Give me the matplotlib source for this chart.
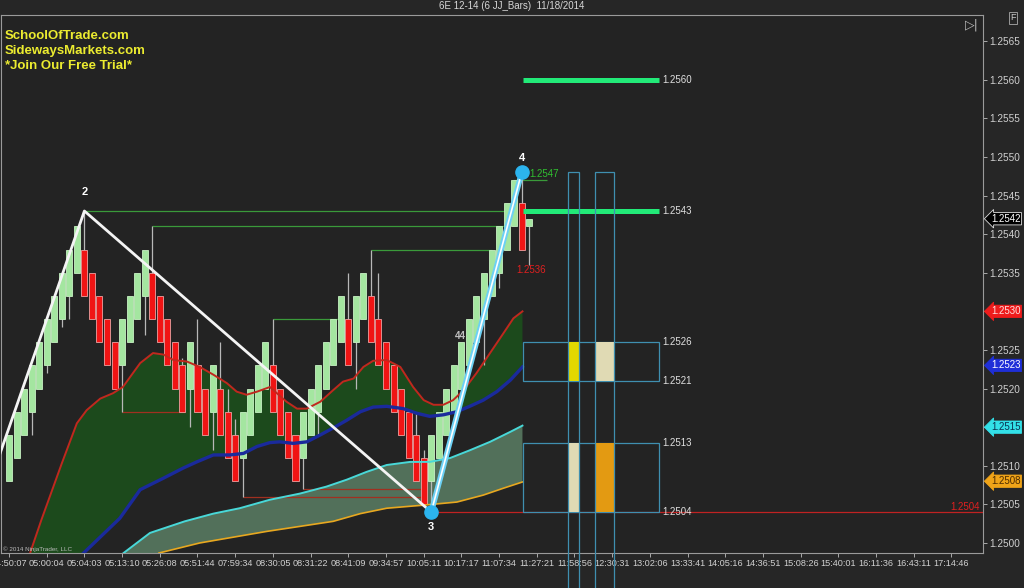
import numpy as np
import matplotlib
matplotlib.use('Agg')
from matplotlib import pyplot as plt
from matplotlib.patches import Rectangle
import matplotlib.transforms as mtransforms

plt.rcParams['font.family'] = ['Liberation Sans', 'DejaVu Sans']

# бары (открытие / закрытие), номер бара = позиция на оси
bar_open = [1.2508, 1.2511, 1.2514, 1.2517, 1.2520, 1.2523, 1.2526, 1.2529, 1.2532, 1.2535,
            1.2538, 1.2535, 1.2532, 1.2529, 1.2526, 1.2523, 1.2526, 1.2529, 1.2532, 1.2535,
            1.2532, 1.2529, 1.2526, 1.2523, 1.2520, 1.2523, 1.2520, 1.2517, 1.2520, 1.2517,
            1.2514, 1.2511, 1.2514, 1.2517, 1.2520, 1.2523, 1.2520, 1.2517, 1.2514, 1.2511,
            1.2514, 1.2517, 1.2520, 1.2523, 1.2526, 1.2529, 1.2526, 1.2529, 1.2532, 1.2529,
            1.2526, 1.2523, 1.2520, 1.2517, 1.2514, 1.2511, 1.2508, 1.2511, 1.2514, 1.2517,
            1.2520, 1.2523, 1.2526, 1.2529, 1.2532, 1.2535, 1.2538, 1.2541, 1.2544, 1.2541]
bar_close = [1.2514, 1.2517, 1.2520, 1.2523, 1.2526, 1.2529, 1.2532, 1.2535, 1.2538, 1.2541,
             1.2532, 1.2529, 1.2526, 1.2523, 1.2520, 1.2529, 1.2532, 1.2535, 1.2538, 1.2529,
             1.2526, 1.2523, 1.2520, 1.2517, 1.2526, 1.2517, 1.2514, 1.2523, 1.2514, 1.2511,
             1.2508, 1.2517, 1.2520, 1.2523, 1.2526, 1.2517, 1.2514, 1.2511, 1.2508, 1.2517,
             1.2520, 1.2523, 1.2526, 1.2529, 1.2532, 1.2523, 1.2532, 1.2535, 1.2526, 1.2523,
             1.2520, 1.2517, 1.2514, 1.2511, 1.2508, 1.2505, 1.2514, 1.2517, 1.2520, 1.2523,
             1.2526, 1.2529, 1.2532, 1.2535, 1.2538, 1.2541, 1.2544, 1.2547, 1.2538, 1.2542]

# тени, которые видны за пределами тела
wick_hi = {11: 1.2543, 20: 1.2541, 24: 1.2524, 26: 1.2529, 29: 1.2526, 30: 1.2520, 31: 1.2516,
           36: 1.2529, 46: 1.2535, 49: 1.2538, 50: 1.2535, 55: 1.2517, 56: 1.2512, 69: 1.2548}
wick_lo = {4: 1.2514, 6: 1.2522, 8: 1.2528, 9: 1.2529, 16: 1.2517, 19: 1.2527, 25: 1.2515,
           28: 1.2512, 32: 1.2506, 40: 1.2507, 42: 1.2514, 47: 1.2520, 57: 1.2504, 64: 1.2523,
           66: 1.2533, 70: 1.2536}

# подписи времени (каждые 5 баров)
time_labels = ['04:50:07', '05:00:04', '05:04:03', '05:13:10', '05:26:08', '05:51:44', '07:59:34',
               '08:30:05', '08:31:22', '08:41:09', '09:34:57', '10:05:11', '10:17:17', '11:07:34',
               '11:27:21', '11:58:56', '12:30:31', '13:02:06', '13:33:41', '14:05:16', '14:36:51',
               '15:08:26', '15:40:01', '16:11:36', '16:43:11', '17:14:46']

# индикаторы
red_x = [3.8, 5.3, 8.0, 10.0, 11.3, 13.1, 14.8, 16.1, 18.4, 20.1, 21.5, 22.8, 24.6, 26.3, 28.1,
         29.9, 31.2, 32.5, 33.9, 35.6, 37.8, 39.2, 40.5, 42.3, 44.0, 45.3, 46.7, 48.0, 49.3,
         51.1, 52.9, 54.6, 56.0, 57.3, 58.6, 59.9, 61.3, 63.0, 64.8, 66.6, 67.9, 69.1]
red_y = [1.24987, 1.25030, 1.25103, 1.25155, 1.25172, 1.25187, 1.25194, 1.25202, 1.25233,
         1.25246, 1.25244, 1.25237, 1.25235, 1.25228, 1.25218, 1.25207, 1.25196, 1.25192,
         1.25196, 1.25202, 1.25183, 1.25174, 1.25174, 1.25183, 1.25198, 1.25209, 1.25213,
         1.25228, 1.25236, 1.25237, 1.25228, 1.25202, 1.25185, 1.25179, 1.25179, 1.25185,
         1.25198, 1.25220, 1.25246, 1.25272, 1.25291, 1.25300]
blue_x = [10.9, 15.7, 18.4, 21.5, 24.1, 25.9, 28.1, 30.3, 32.1, 33.9, 35.6, 36.9, 38.7, 40.5,
          42.3, 44.0, 45.8, 47.6, 49.3, 51.1, 53.3, 55.1, 56.8, 58.6, 60.4, 62.1, 63.9, 65.7,
          67.5, 69.1]
blue_y = [1.24987, 1.25032, 1.25069, 1.25084, 1.25097, 1.25105, 1.25114, 1.25114, 1.25116,
          1.25125, 1.25130, 1.25131, 1.25129, 1.25131, 1.25140, 1.25149, 1.25159, 1.25170,
          1.25176, 1.25177, 1.25174, 1.25168, 1.25164, 1.25166, 1.25170, 1.25177, 1.25185,
          1.25196, 1.25211, 1.25228]
cyan_x = [16.2, 19.7, 24.3, 28.1, 31.6, 35.6, 39.6, 43.1, 45.8, 48.4, 51.1, 54.2, 56.8, 59.5,
          62.1, 64.8, 67.5, 69.1]
cyan_y = [1.24987, 1.25013, 1.25028, 1.25038, 1.25045, 1.25056, 1.25064, 1.25073, 1.25082,
          1.25092, 1.25101, 1.25105, 1.25105, 1.25110, 1.25120, 1.25131, 1.25144, 1.25152]
orange_x = [20.9, 26.3, 35.2, 44.0, 47.6, 51.1, 56.0, 60.4, 63.9, 66.6, 69.1]
orange_y = [1.24987, 1.25000, 1.25015, 1.25028, 1.25038, 1.25045, 1.25049, 1.25053, 1.25062,
            1.25071, 1.25079]

# уровни от экстремумов: (цена, от бара, до бара)
green_levels = [(1.2543, 11, 67.5), (1.2541, 20, 67.5), (1.2538, 49, 65), (1.2529, 36, 45),
                (1.2547, 67.8, 72.3)]
red_levels = [(1.2517, 16, 24.3), (1.2506, 32, 56.2), (1.2507, 40, 56.2)]

# зигзаг 1-2-3-4
zz_x = [-2, 11, 57, 69]
zz_y = [1.25065, 1.2543, 1.2504, 1.2548]

# зоны справа
target_levels = [1.2560, 1.2543]
box_levels = [(1.2521, 1.2526), (1.2504, 1.2513)]
col_x = [(75.2, 76.6), (78.7, 81.2)]
col_fill = [['#e2d800', '#e0dab4'], ['#e0dab4', '#e39a12']]
axis_tags = [(1.2542, '#000000', '#ffffff', '#ffffff'), (1.2530, '#ee1c1c', '#ffe0e0', '#ee1c1c'),
             (1.2523, '#1f2fd8', '#ffffff', '#1f2fd8'), (1.2515, '#33e0e8', '#0a3050', '#33e0e8'),
             (1.2508, '#f0a418', '#4a2a00', '#f0a418')]

bg = '#232323'
fig = plt.figure(figsize=(10.24, 5.88), dpi=100, facecolor='#262626')
ax = fig.add_axes([1 / 1024, 35 / 588, 982 / 1024, 538 / 588])
ax.set_facecolor(bg)
ax.set_xlim(-0.06, 130.18)
ax.set_ylim(1.24987, 1.256839)

# заливки
px = red_x + blue_x[::-1]
py = red_y + blue_y[::-1]
ax.fill(px, py, color='#1c4a1c', lw=0, zorder=1)
px = cyan_x + orange_x[::-1]
py = cyan_y + orange_y[::-1]
ax.fill(px, py, color='#52705a', lw=0, zorder=1)

# уровни
for p, a, b in green_levels:
    ax.hlines(p, a, b, color='#3a9a3a', lw=0.9, zorder=2)
for p, a, b in red_levels:
    ax.hlines(p, a, b, color='#a03020', lw=0.9, zorder=2)
ax.hlines(1.2504, 57, 130.18, color='#c02222', lw=0.9, zorder=2)

# бары
n = len(bar_open)
idx = np.arange(1, n + 1)
o = np.array(bar_open)
c = np.array(bar_close)
lo = np.minimum(o, c)
hi = np.maximum(o, c)
for i in idx:
    if i in wick_hi:
        ax.vlines(i, hi[i - 1], wick_hi[i], color='#b8b8b8', lw=0.9, zorder=3)
    if i in wick_lo:
        ax.vlines(i, wick_lo[i], lo[i - 1], color='#b8b8b8', lw=0.9, zorder=3)
up = c >= o
ax.bar(idx[up], (hi - lo)[up], bottom=lo[up], width=0.8, color='#a4e6a0', edgecolor='#c8f2c4',
       lw=0.6, zorder=4)
ax.bar(idx[~up], (hi - lo)[~up], bottom=lo[~up], width=0.8, color='#f01414', edgecolor='#f0a0a0',
       lw=0.6, zorder=4)

# линии индикаторов
ax.plot(red_x, red_y, color='#c0281e', lw=1.4, zorder=5)
ax.plot(blue_x, blue_y, color='#1a2a9c', lw=2.4, zorder=5)
ax.plot(cyan_x, cyan_y, color='#48d8d8', lw=1.4, zorder=5)
ax.plot(orange_x, orange_y, color='#e8a820', lw=1.2, zorder=5)

# зигзаг
ax.plot(zz_x[:3], zz_y[:3], color='#f4f4f4', lw=2, zorder=6)
ax.plot(zz_x[2:], zz_y[2:], color='#6cd0f4', lw=4, zorder=6, solid_capstyle='round')
ax.plot(zz_x[2:], zz_y[2:], color='#ffffff', lw=1.2, zorder=6)
ax.text(70.0, 1.25478, '1.2547', color='#30c030', fontsize=7, ha='left', va='center', zorder=6)
ax.plot(zz_x[2:], zz_y[2:], 'o', ms=9.5, color='#2cb4ee', zorder=7)
ax.annotate('2', (zz_x[1], zz_y[1]), xytext=(0, 10), textcoords='offset points', ha='center',
            va='bottom', color='white', fontsize=8, fontweight='bold', zorder=7)
ax.annotate('3', (zz_x[2], zz_y[2]), xytext=(0, -7), textcoords='offset points', ha='center',
            va='top', color='white', fontsize=8, fontweight='bold', zorder=7)
ax.annotate('4', (zz_x[3], zz_y[3]), xytext=(0, 7), textcoords='offset points', ha='center',
            va='bottom', color='white', fontsize=8, fontweight='bold', zorder=7)
ax.text(60.1, 1.25268, '44', color='#c0c0c0', fontsize=7, fontweight='bold', ha='left',
        va='center', zorder=4.5)
ax.text(70.2, 1.25354, '1.2536', color='#e02020', fontsize=7, ha='center', va='center', zorder=6)
ax.text(129.8, 1.25046, '1.2504', color='#e02020', fontsize=7, ha='right', va='center', zorder=6)

# зоны справа
bx0, bx1 = 69.17, 87.2
for p in target_levels:
    ax.hlines(p, bx0, bx1, color='#22ea78', lw=3.6, zorder=6)
    ax.text(bx1 + 0.4, p, f'{p:.4f}', color='#e0e0e0', fontsize=7, ha='left', va='center')
for k, (b0, b1) in enumerate(box_levels):
    ax.add_patch(Rectangle((bx0, b0), bx1 - bx0, b1 - b0, fill=False, ec='#3f8fb0', lw=0.9,
                           zorder=5))
    for j, (c0, c1) in enumerate(col_x):
        ax.add_patch(Rectangle((c0, b0), c1 - c0, b1 - b0, color=col_fill[k][j], lw=0, zorder=5))
    for p in (b1, b0):
        ax.text(bx1 + 0.4, p, f'{p:.4f}', color='#e0e0e0', fontsize=7, ha='left', va='center')
for c0, c1 in col_x:
    ax.add_patch(Rectangle((c0, 1.2490), c1 - c0, 1.2548 - 1.2490, fill=False, ec='#3f8fb0',
                           lw=0.9, zorder=6, clip_on=False))

# оси
for s in ax.spines.values():
    s.set_color('#9a9a9a')
    s.set_linewidth(0.8)
ax.yaxis.tick_right()
yt = np.arange(1.2500, 1.25651, 0.0005)
ax.set_yticks(yt)
ax.set_yticklabels([f'{v:.4f}' for v in yt])
xt = np.arange(1, 1 + 5 * len(time_labels), 5)
ax.set_xticks(xt)
ax.set_xticklabels(time_labels)
ax.tick_params(axis='both', colors='#aaaaaa', labelcolor='#d0d0d0', length=3,
               width=0.7, pad=1.5)
ax.tick_params(axis='x', labelsize=6.6)
ax.tick_params(axis='y', labelsize=7.2)

trans = mtransforms.blended_transform_factory(ax.transAxes, ax.transData)
for p, fc, tc, ec in axis_tags:
    ax.text(1.008, p, f'{p:.4f}', transform=trans, ha='left', va='center', fontsize=7, color=tc,
            bbox=dict(boxstyle='larrow,pad=0.12', fc=fc, ec=ec if fc != '#000000' else '#dddddd',
                      lw=0.6), clip_on=False, zorder=10)

# надписи
fig.text(0.5, 1 - 6 / 588, '6E 12-14 (6 JJ_Bars)  11/18/2014', fontsize=7, color='#d8d8d8',
         ha='center', va='center')
for k, t in enumerate(['SchoolOfTrade.com', 'SidewaysMarkets.com', '*Join Our Free Trial*']):
    fig.text(5 / 1024, 1 - (36 + 15 * k) / 588, t, fontsize=9.5, fontweight='bold',
             color='#ecec30', ha='left', va='center')
fig.text(3 / 1024, 1 - 549 / 588, '© 2014 NinjaTrader, LLC', fontsize=4.5, color='#bbbbbb',
         ha='left', va='center')
fig.text(972 / 1024, 1 - 25 / 588, '▷|', fontsize=9, color='#bbbbbb', ha='center', va='center',
         family='DejaVu Sans')
fig.text(1013 / 1024, 1 - 18 / 588, 'F', fontsize=6.5, color='#cccccc', ha='center', va='center',
         bbox=dict(boxstyle='square,pad=0.15', fc='#262626', ec='#aaaaaa', lw=0.6))

fig.savefig('out.png', dpi=100, facecolor=fig.get_facecolor())
